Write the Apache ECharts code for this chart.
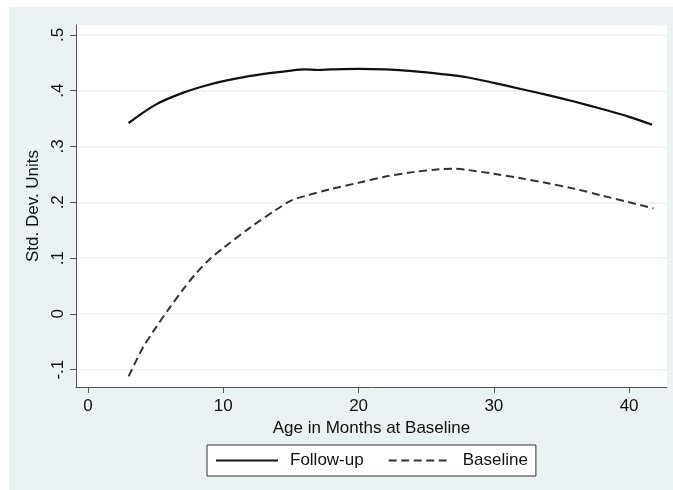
<!DOCTYPE html>
<html>
<head>
<meta charset="utf-8">
<script src="https://cdn.jsdelivr.net/npm/echarts@6/dist/echarts.min.js"></script>
<style>
html,body{margin:0;padding:0;background:#ffffff;}
#chart{width:673px;height:490px;}
</style>
</head>
<body>
<div id="chart"></div>
<script>
// ---- data ----
var followUpX = [3, 5, 7, 9, 11, 13, 15, 16, 17, 18, 20, 22, 24, 26, 28, 30, 32, 34, 36, 38, 40, 41.7];
var followUpY = [0.342, 0.375, 0.396, 0.411, 0.422, 0.430, 0.436, 0.438, 0.437, 0.438, 0.439, 0.438, 0.435, 0.430, 0.424, 0.414, 0.403, 0.392, 0.380, 0.367, 0.353, 0.339];
var baselineX = [3, 4, 5, 6, 7, 8, 9, 10, 12, 14, 15, 16, 18, 20, 22, 24, 26, 27, 28, 30, 32, 34, 36, 38, 40, 41.8];
var baselineY = [-0.112, -0.063, -0.025, 0.010, 0.043, 0.073, 0.098, 0.118, 0.155, 0.188, 0.203, 0.211, 0.224, 0.235, 0.246, 0.254, 0.259, 0.260, 0.258, 0.251, 0.243, 0.234, 0.224, 0.212, 0.200, 0.189];
var xTicks = [0, 10, 20, 30, 40];
var yTicks = [-0.1, 0, 0.1, 0.2, 0.3, 0.4, 0.5];
var yTickLabels = ['-.1', '0', '.1', '.2', '.3', '.4', '.5'];
var seriesNames = ['Follow-up', 'Baseline'];
var xTitle = 'Age in Months at Baseline';
var yTitle = 'Std. Dev. Units';

function pairs(xs, ys) { return xs.map(function (x, i) { return [x, ys[i]]; }); }

var FONT = '"Liberation Sans", Arial, sans-serif';
var chart = echarts.init(document.getElementById('chart'), null, {renderer: 'canvas'});
chart.setOption({
  animation: false,
  backgroundColor: '#ffffff',
  graphic: [{
    type: 'rect', z: -10, silent: true,
    shape: {x: 9, y: 7, width: 664, height: 483},
    style: {fill: '#EAF2F3'}
  }],
  grid: {
    left: 76, right: 6, top: 25, bottom: 103,
    show: true, backgroundColor: '#ffffff', borderWidth: 0
  },
  xAxis: {
    type: 'value', min: -0.89, max: 42.8,
    name: xTitle, nameLocation: 'middle', nameGap: 30,
    nameTextStyle: {fontFamily: FONT, fontSize: 17, color: '#111111'},
    axisLine: {show: true, onZero: false, lineStyle: {color: '#555555', width: 1}},
    axisTick: {show: true, length: 6, customValues: xTicks, lineStyle: {color: '#555555'}},
    axisLabel: {customValues: xTicks, margin: 11, fontFamily: FONT, fontSize: 17, color: '#111111'},
    splitLine: {show: false}
  },
  yAxis: {
    type: 'value', min: -0.131, max: 0.5176,
    name: yTitle, nameLocation: 'middle', nameGap: 29, nameRotate: 90,
    nameTextStyle: {fontFamily: FONT, fontSize: 17, color: '#111111'},
    axisLine: {show: true, onZero: false, lineStyle: {color: '#555555', width: 1}},
    axisTick: {show: true, length: 6, customValues: yTicks, lineStyle: {color: '#555555'}},
    axisLabel: {
      customValues: yTicks, rotate: 90, margin: 9,
      fontFamily: FONT, fontSize: 17, color: '#111111',
      formatter: function (v) {
        var i = yTicks.findIndex(function (t) { return Math.abs(t - v) < 1e-9; });
        return i >= 0 ? yTickLabels[i] : '';
      }
    },
    splitLine: {show: true, lineStyle: {color: '#EAF2F3', width: 1.5}}
  },
  legend: {
    left: 207, top: 445,
    orient: 'horizontal',
    backgroundColor: '#ffffff', borderColor: '#333333', borderWidth: 1,
    padding: [7, 8, 7, 8],
    itemWidth: 62, itemHeight: 14, itemGap: 24,
    itemStyle: {opacity: 0},
    textStyle: {fontFamily: FONT, fontSize: 17, color: '#111111', lineHeight: 16, padding: [0, 0, 0, 7]},
    data: seriesNames
  },
  series: [{
    name: seriesNames[0], type: 'line', data: pairs(followUpX, followUpY),
    smooth: 0.3, symbol: 'none', showSymbol: false,
    lineStyle: {color: '#111111', width: 2.2, type: 'solid'},
    itemStyle: {color: '#111111'}
  }, {
    name: seriesNames[1], type: 'line', data: pairs(baselineX, baselineY),
    smooth: 0.3, symbol: 'none', showSymbol: false,
    lineStyle: {color: '#333333', width: 2, type: [8, 4.5]},
    itemStyle: {color: '#333333'}
  }]
});
</script>
</body>
</html>
